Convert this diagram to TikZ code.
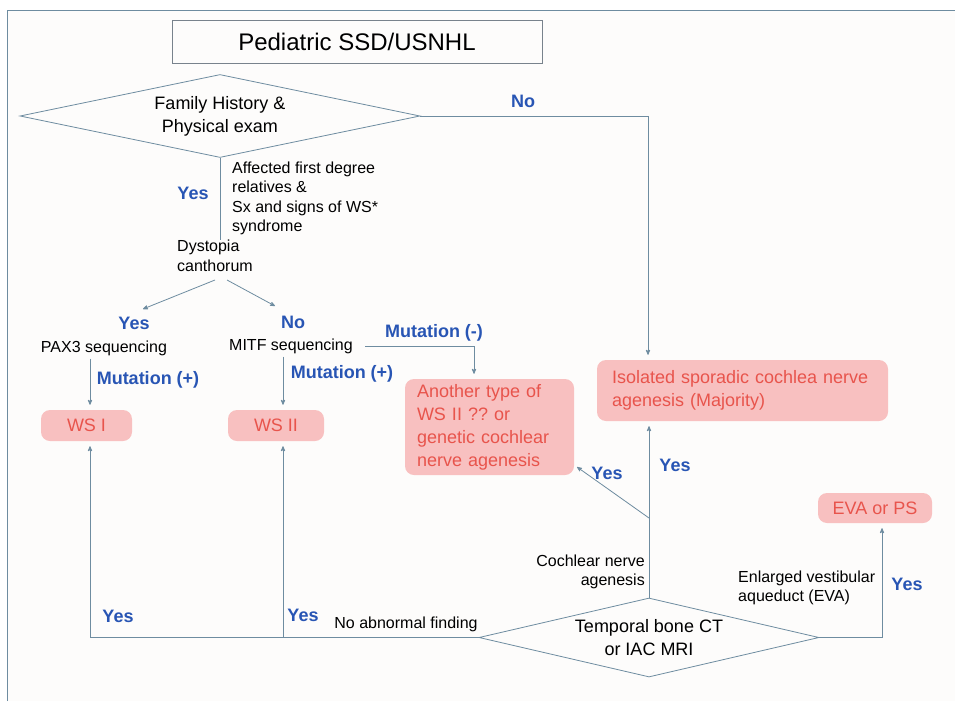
\documentclass[tikz,border=0pt]{standalone}
\usepackage{fontspec}
\setmainfont{Liberation Sans}
\usetikzlibrary{arrows}
\usetikzlibrary{shapes.geometric}

\definecolor{linec}{RGB}{110,140,160}
\definecolor{boxc}{RGB}{120,130,140}
\definecolor{pinkfill}{RGB}{248,192,192}
\definecolor{redtext}{RGB}{232,84,76}
\definecolor{bluetext}{RGB}{40,85,180}
\definecolor{paper}{RGB}{253,252,251}
\newcommand{\fsz}[2]{\fontsize{#1}{#2}\selectfont}
\frenchspacing

\begin{document}
\begin{tikzpicture}[x=1pt,y=-1pt,>=stealth',
    line/.style={draw=linec,line width=0.8pt},
    arr/.style={line,->,shorten >=5pt},
    decide/.style={diamond,draw=linec,line width=0.8pt,inner sep=0pt,align=center,font=\fsz{18}{23}},
    result/.style={rounded corners=9pt,fill=pinkfill,text=redtext,font=\fsz{18}{23}},
    answer/.style={text=bluetext,font=\fsz{18}{22}\bfseries},
    note/.style={inner sep=0pt,font=\fsz{16}{19.5}}]

  \useasboundingbox (0,0) rectangle (955,701);
  \fill[white] (0,0) rectangle (955,701);
  \fill[paper] (7,10) rectangle (955,701);
  \draw[line] (7,701) -- (7,10) -- (955,10);

  \coordinate (colI) at (90,0);
  \coordinate (colII) at (283,0);
  \coordinate (colA) at (474,0);
  \coordinate (colN) at (648,0);
  \coordinate (colE) at (882,0);

  \node [draw=boxc,line width=0.8pt,minimum width=370pt,minimum height=43pt,font=\fsz{24}{28}] (title) at (357,41.5) {Pediatric SSD/USNHL};
  \node [decide,shape aspect=4.8,minimum width=400pt,minimum height=83pt] (famhx) at (220,116) {Family History \&\\Physical exam};
  \node [answer] (noIso) at (523,101) {No};
  \node [answer] (yesWS) at (193,193) {Yes};
  \node [note,anchor=west,align=left] (affected) at (232,198.5) {Affected first degree\\relatives \&\\Sx and signs of WS*\\syndrome};
  \node [note,align=left] (dyst) at (215,256) {Dystopia\\canthorum};

  \coordinate (splitL) at (215,280);
  \coordinate (splitR) at (227,280);
  \coordinate (toPax) at (143,309);
  \coordinate (toMitf) at (275,306);

  \node [answer] (yesPax) at (134,323) {Yes};
  \node [answer] (noMitf) at (293,322) {No};
  \node [note] (pax3) at (104,348) {PAX3 sequencing};
  \node [note] (mitf) at (291,346) {MITF sequencing};
  \node [answer] (mutPax) at (148,380) {Mutation (+)};
  \node [answer] (mutMitf) at (342,374) {Mutation (+)};
  \node [answer] (mutNeg) at (434,333) {Mutation (-)};

  \node [result,minimum width=91pt,minimum height=31pt] (wsI) at (86.5,425.5) {WS I};
  \node [result,minimum width=96pt,minimum height=31pt] (wsII) at (276,425.5) {WS II};
  \node [result,text width=145pt,inner xsep=12pt,minimum height=96pt,align=left] (another) at (489.5,427) {Another type of\\WS II ?? or\\genetic cochlear\\nerve agenesis};
  \node [result,text width=261pt,inner xsep=15pt,minimum height=61pt,align=left] (isolated) at (742.5,390.5) {Isolated sporadic cochlea nerve\\agenesis (Majority)};
  \node [result,minimum width=114pt,minimum height=30pt] (eva) at (875,508) {EVA or PS};

  \node [decide,shape aspect=4.3,minimum width=340pt,minimum height=79pt] (temporal) at (649,637.5) {Temporal bone CT\\or IAC MRI};
  \node [answer] (yesIso) at (675,465) {Yes};
  \node [answer] (yesAno) at (607,473) {Yes};
  \node [note,anchor=east,align=right] (cna) at (645,572) {Cochlear nerve\\agenesis};
  \node [answer] (yesEva) at (907,584) {Yes};
  \node [note,anchor=west,align=left] (enlarged) at (738,588) {Enlarged vestibular\\aqueduct (EVA)};
  \node [answer] (yesI) at (118,616) {Yes};
  \node [answer] (yesII) at (303,615) {Yes};
  \node [note] (normal) at (406,624) {No abnormal finding};

  \coordinate (fork) at (649,518);
  \coordinate (toAnother) at (577,467);

  \draw [line] (famhx.south) -- (famhx.south |- dyst.north);
  \draw [line,->] (splitL) -- (toPax);
  \draw [line,->] (splitR) -- (toMitf);
  \draw [arr,shorten <=3pt] (pax3.south -| colI) -- (wsI.north -| colI);
  \draw [arr,shorten <=3pt] (mitf.south -| colII) -- (wsII.north -| colII);
  \draw [arr] ([xshift=12pt]mitf.east) -| (another.north -| colA);
  \draw [arr] (famhx.east) -| (isolated.north -| colN);
  \draw [arr] (temporal.north) -- (isolated.south -| temporal.north);
  \draw [line,->] (fork) -- (toAnother);
  \draw [arr] (temporal.east) -| (eva.south -| colE);
  \draw [arr] (temporal.west) -| (wsI.south -| colI);
  \draw [arr] (colII |- temporal.west) -- (wsII.south -| colII);

\end{tikzpicture}
\end{document}
